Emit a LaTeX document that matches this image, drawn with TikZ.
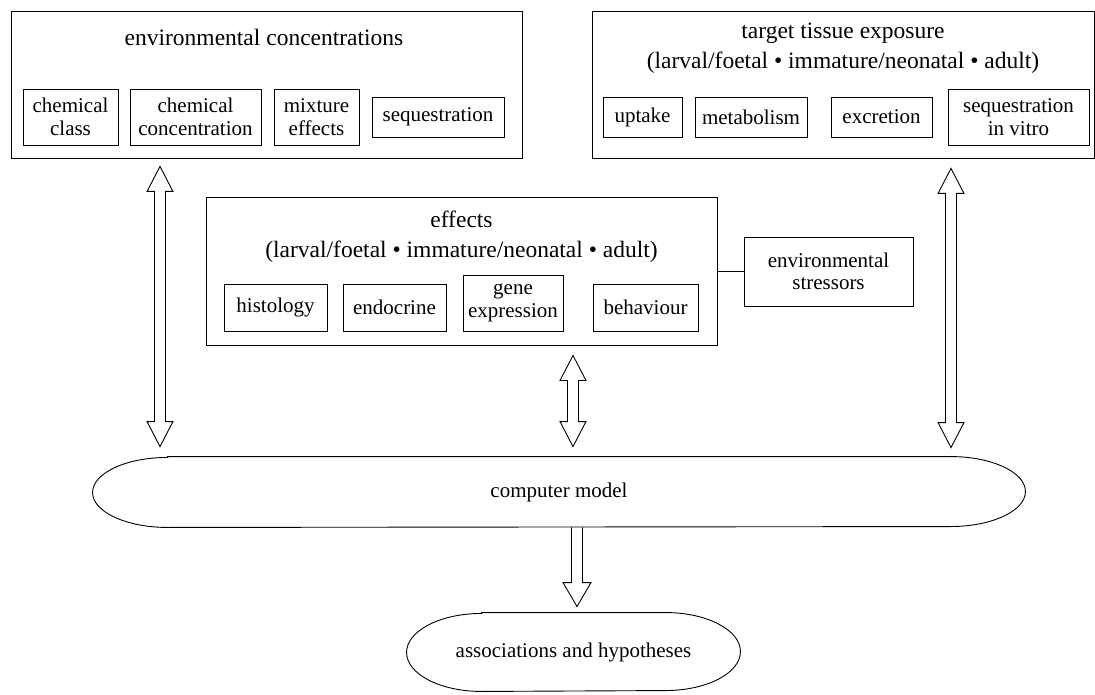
\documentclass[tikz,border=0pt]{standalone}
\usepackage{fontspec}
\setmainfont{Liberation Serif}
\usetikzlibrary{calc}
\newcommand\titlefont{\fontsize{23.5}{30}\selectfont}
\newcommand\boxfont{\fontsize{21}{22.5}\selectfont}
\begin{document}
\begin{tikzpicture}[x=1pt,y=-1pt, line width=0.9pt,
  frame/.style={draw, inner sep=0pt},
  sub/.style={draw, inner sep=0pt, align=center, font=\boxfont},
  ttl/.style={inner sep=0pt, align=center, font=\titlefont},
  txt/.style={inner sep=0pt, align=center, font=\boxfont},
  harrow/.style={to path={
    ($(\tikztostart)+(-5.5pt,-25pt)$) -- ($(\tikztostart)+(-13pt,-25pt)$) -- (\tikztostart)
    -- ($(\tikztostart)+(13pt,-25pt)$) -- ($(\tikztostart)+(5.5pt,-25pt)$)
    -- ($(\tikztotarget)+(5.5pt,25pt)$) -- ($(\tikztotarget)+(13pt,25pt)$) -- (\tikztotarget)
    -- ($(\tikztotarget)+(-13pt,25pt)$) -- ($(\tikztotarget)+(-5.5pt,25pt)$) -- cycle}},
  sarrow/.style={to path={
    ($(\tikztostart)+(-5.5pt,0pt)$) -- ($(\tikztotarget)+(-5.5pt,24pt)$) -- ($(\tikztotarget)+(-14pt,24pt)$)
    -- (\tikztotarget) -- ($(\tikztotarget)+(14pt,24pt)$) -- ($(\tikztotarget)+(5.5pt,24pt)$)
    -- ($(\tikztostart)+(5.5pt,0pt)$)}}]
\useasboundingbox (0,0) rectangle (1095,695);

% environmental concentrations
\node[frame, minimum width=511pt, minimum height=147pt] (env) at (266.5,84.5) {};
\node[ttl] (envt) at (264,37) {environmental concentrations};
\node[sub, minimum width=95pt, minimum height=56pt] (cc) at (70.5,117) {chemical\\class};
\node[sub, minimum width=131pt, minimum height=56pt] (conc) at (195.5,117) {chemical\\concentration};
\node[sub, minimum width=85pt, minimum height=56pt] (mix) at (316.5,117) {mixture\\effects};
\node[sub, minimum width=132pt, minimum height=40pt] (seq) at (438,117) {sequestration};

% target tissue exposure
\node[frame, minimum width=502pt, minimum height=147pt] (tgt) at (843,84.5) {};
\node[ttl] (tgtt) at (843,48) {target tissue exposure\\(larval/foetal • immature/neonatal • adult)};
\node[sub, minimum width=79pt, minimum height=40pt] (up) at (642.5,117) {uptake};
\node[sub, minimum width=112pt, minimum height=40pt] (met) at (751,117) {metabolism};
\node[sub, minimum width=101pt, minimum height=40pt] (exc) at (881.5,117) {excretion};
\node[sub, minimum width=141pt, minimum height=56pt] (seqv) at (1018.5,117) {sequestration\\in vitro};

% effects
\node[frame, minimum width=511pt, minimum height=148pt] (eff) at (461.5,271) {};
\node[ttl] (efft) at (461.5,237) {effects\\(larval/foetal • immature/neonatal • adult)};
\node[sub, minimum width=103pt, minimum height=47pt] (his) at (275.5,307.5) {histology};
\node[sub, minimum width=103pt, minimum height=47pt] (end) at (394.5,307.5) {endocrine};
\node[sub, minimum width=100pt, minimum height=56pt] (gene) at (513,303) {gene\\expression};
\node[sub, minimum width=105pt, minimum height=47pt] (beh) at (645.5,307.5) {behaviour};

\node[sub, minimum width=169pt, minimum height=69pt] (st) at (828.5,271.5) {environmental\\stressors};
\draw (st.west -| eff.east) -- (st.west);

% computer model
\node[txt, minimum width=932pt, minimum height=70pt] (cm) at (559,492) {computer model};
\draw ([xshift=75pt]cm.north west) -- ([xshift=-75pt]cm.north east)
  arc[start angle=90, end angle=-90, x radius=75pt, y radius=35pt]
  -- ([xshift=75pt]cm.south west)
  arc[start angle=270, end angle=90, x radius=75pt, y radius=35pt] -- cycle;

% associations and hypotheses
\node[txt, minimum width=333pt, minimum height=78pt] (as) at (573.5,652) {associations and hypotheses};
\draw ([xshift=75pt]as.north west) -- ([xshift=-75pt]as.north east)
  arc[start angle=90, end angle=-90, x radius=75pt, y radius=39pt]
  -- ([xshift=75pt]as.south west)
  arc[start angle=270, end angle=90, x radius=75pt, y radius=39pt] -- cycle;

% arrows
\coordinate (xl) at (160,0);
\coordinate (xm) at (573,0);
\coordinate (xr) at (951,0);
\coordinate (xb) at (577,0);
\path (env.south -| xl) ++(0,-8pt) coordinate (l1);
\path (cm.north -| xl) ++(0,10pt) coordinate (l2);
\path (eff.south -| xm) ++(0,-10pt) coordinate (m1);
\path (cm.north -| xm) ++(0,10pt) coordinate (m2);
\path (tgt.south -| xr) ++(0,-10pt) coordinate (r1);
\path (cm.north -| xr) ++(0,9pt) coordinate (r2);
\path (cm.south -| xb) coordinate (b1);
\path (as.north -| xb) ++(0,6pt) coordinate (b2);
\draw[harrow] (l1) to (l2);
\draw[harrow] (m1) to (m2);
\draw[harrow] (r1) to (r2);
\draw[sarrow] (b1) to (b2);
\end{tikzpicture}
\end{document}
